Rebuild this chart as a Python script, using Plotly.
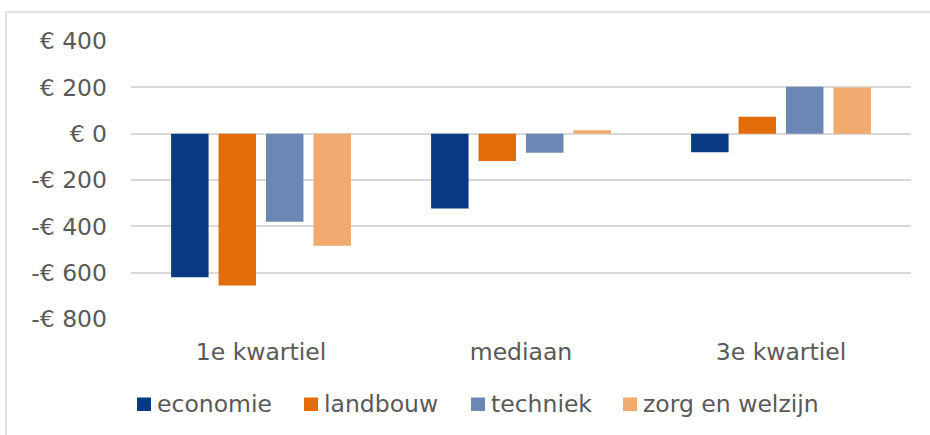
import plotly.graph_objects as go

categories = ["1e kwartiel", "mediaan", "3e kwartiel"]
series_names = ["economie", "landbouw", "techniek", "zorg en welzijn"]
economie = [-620, -323, -80]
landbouw = [-655, -118, 73]
techniek = [-380, -82, 203]
zorg_en_welzijn = [-484, 15, 199]
colors = ["#083A84", "#E36C0A", "#6B88B5", "#F0A96E"]
tick_values = [400, 200, 0, -200, -400, -600, -800]
tick_labels = ["€ 400", "€ 200", "€ 0", "-€ 200", "-€ 400", "-€ 600", "-€ 800"]

series_values = [economie, landbouw, techniek, zorg_en_welzijn]

W, H = 930, 435
ml, mr, mt, mb = 131, 19, 41, 116
pw, ph = W - ml - mr, H - mt - mb

fig = go.Figure()
for name, vals, col in zip(series_names, series_values, colors):
    fig.add_trace(go.Bar(name=name, x=categories, y=vals, marker_color=col,
                         marker_line_width=0, showlegend=False))

font = dict(family="DejaVu Sans", size=23.5, color="#595959")


def px_x(p):
    return (p - ml) / pw


def px_y(p):
    return (H - mb - p) / ph


# legend (manual, positioned like the original)
legend_square_left = [137, 304, 471, 623]
shapes = [dict(type="rect", xref="paper", yref="paper",
               x0=px_x(6), x1=px_x(945), y0=px_y(450), y1=px_y(12),
               line=dict(color="#D9D9D9", width=1.5), fillcolor="rgba(0,0,0,0)",
               layer="below")]
annotations = []
for name, col, lx in zip(series_names, colors, legend_square_left):
    shapes.append(dict(type="rect", xref="paper", yref="paper",
                       x0=px_x(lx), x1=px_x(lx + 14), y0=px_y(411), y1=px_y(397.5),
                       line=dict(width=0), fillcolor=col))
    annotations.append(dict(xref="paper", yref="paper", x=px_x(lx + 18), y=px_y(404),
                            xanchor="left", yanchor="middle", text=name,
                            showarrow=False, font=font))

fig.update_layout(
    width=W, height=H,
    margin=dict(l=ml, r=mr, t=mt, b=mb, autoexpand=False),
    paper_bgcolor="white", plot_bgcolor="white",
    barmode="group", bargap=0.27, bargroupgap=0.21,
    font=font,
    showlegend=False,
    xaxis=dict(showgrid=False, showline=False, zeroline=False,
               ticks="", tickfont=font, ticklabelstandoff=16),
    yaxis=dict(range=[-800, 400], tickvals=tick_values, ticktext=tick_labels,
               showgrid=True, gridcolor="#D9D9D9", gridwidth=2,
               zeroline=True, zerolinecolor="#D9D9D9", zerolinewidth=2,
               showline=False, ticks="", tickfont=font, ticklabelstandoff=23),
    shapes=shapes,
    annotations=annotations,
)

fig.write_html("out.html", config={"displayModeBar": False},
               post_script="document.body.style.margin='0';document.body.style.padding='0';")
